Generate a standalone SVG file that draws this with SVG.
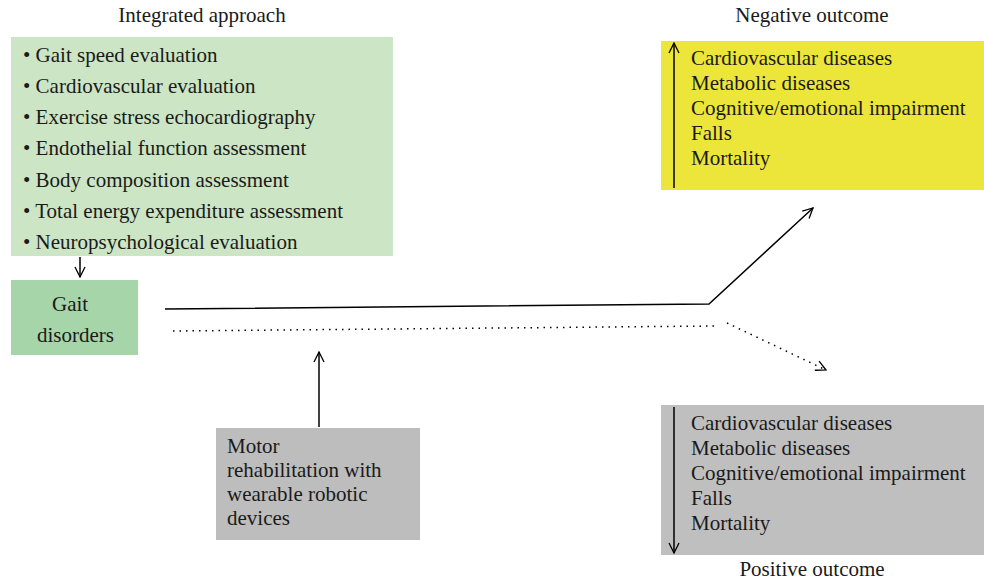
<svg xmlns="http://www.w3.org/2000/svg" width="984" height="583" viewBox="0 0 984 583">
<defs>
<style>
text{font-family:"Liberation Serif","DejaVu Serif",serif;fill:#1a1a1a;font-size:21px}
.t{font-size:21px}
.ln{stroke:#000;stroke-width:1.5;fill:none}
.dot{stroke:#000;stroke-width:1.5;fill:none;stroke-dasharray:1.5 5}
</style>
<marker id="ah" viewBox="0 0 12 12" refX="11" refY="6" markerWidth="12" markerHeight="12" markerUnits="userSpaceOnUse" orient="auto">
<path d="M1,1 L11,6 L1,11" fill="none" stroke="#000" stroke-width="1.3"/>
</marker>
</defs>
<rect width="984" height="583" fill="#fff"/>
<g id="integrated">
<text class="t" x="202" y="22" text-anchor="middle">Integrated approach</text>
<rect x="11" y="37" width="382" height="219" fill="#cce5c4"/>
<text x="23" y="62">• Gait speed evaluation</text>
<text x="23" y="93">• Cardiovascular evaluation</text>
<text x="23" y="124">• Exercise stress echocardiography</text>
<text x="23" y="155">• Endothelial function assessment</text>
<text x="23" y="187">• Body composition assessment</text>
<text x="23" y="218">• Total energy expenditure assessment</text>
<text x="23" y="249">• Neuropsychological evaluation</text>
</g>
<g id="gait">
<rect x="11" y="280" width="127" height="75" fill="#a5d5a8"/>
<text x="52" y="311">Gait</text>
<text x="37" y="342">disorders</text>
</g>
<g id="negative">
<text class="t" x="812" y="22" text-anchor="middle">Negative outcome</text>
<rect x="661" y="41" width="323" height="149" fill="#ede63a"/>
<text x="691" y="65">Cardiovascular diseases</text>
<text x="691" y="90">Metabolic diseases</text>
<text x="691" y="115">Cognitive/emotional impairment</text>
<text x="691" y="140">Falls</text>
<text x="691" y="165">Mortality</text>
</g>
<g id="positive">
<rect x="661" y="405" width="323" height="150" fill="#bfbfbf"/>
<text x="691" y="430">Cardiovascular diseases</text>
<text x="691" y="455">Metabolic diseases</text>
<text x="691" y="480">Cognitive/emotional impairment</text>
<text x="691" y="505">Falls</text>
<text x="691" y="530">Mortality</text>
<text class="t" x="812" y="576" text-anchor="middle">Positive outcome</text>
</g>
<g id="motor">
<rect x="216" y="428" width="204" height="112" fill="#bdbdbd"/>
<text x="227" y="453">Motor</text>
<text x="227" y="477">rehabilitation with</text>
<text x="227" y="501">wearable robotic</text>
<text x="227" y="525">devices</text>
</g>
<g id="connectors">
<line class="ln" x1="80" y1="257" x2="80" y2="277" marker-end="url(#ah)"/>
<polyline class="ln" points="165,309 709,304 813,208" marker-end="url(#ah)"/>
<line class="dot" x1="173" y1="331" x2="715" y2="326"/>
<line class="dot" x1="727" y1="323" x2="826" y2="370" marker-end="url(#ah)"/>
<line class="ln" x1="319" y1="427" x2="319" y2="352" marker-end="url(#ah)"/>
<line class="ln" x1="674" y1="188" x2="674" y2="43" marker-end="url(#ah)"/>
<line class="ln" x1="674" y1="407" x2="674" y2="553" marker-end="url(#ah)"/>
</g>
</svg>
